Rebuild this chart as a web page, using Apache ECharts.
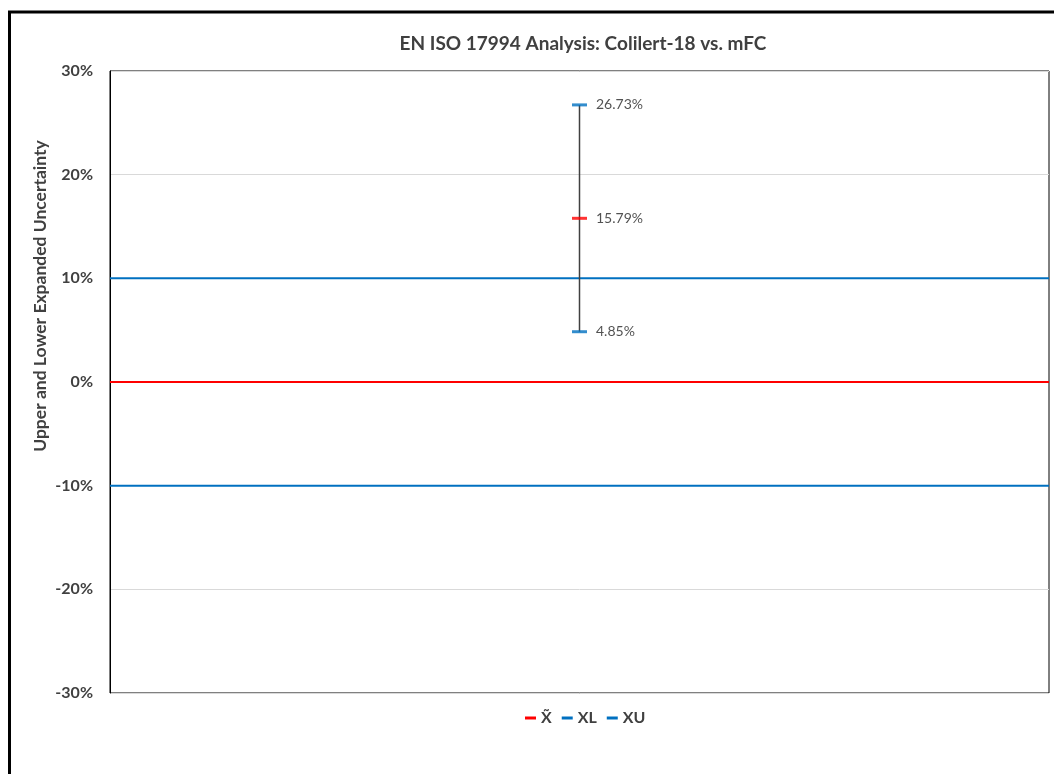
<!DOCTYPE html>
<html>
<head>
<meta charset="utf-8">
<script src="https://cdn.jsdelivr.net/npm/echarts@6/dist/echarts.min.js"></script>
<style>html,body{margin:0;padding:0;background:#fff}#c{width:1054px;height:774px}</style>
</head>
<body>
<div id="c"></div>
<script>
// Data (percent)
const titleText = 'EN ISO 17994 Analysis: Colilert-18 vs. mFC';
const yAxisTitle = 'Upper and Lower Expanded Uncertainty';
const seriesNames = ['X\u0303', 'XL', 'XU'];
const medianValue = 15.79;   // X̃
const lowerValue = 4.85;     // XL
const upperValue = 26.73;    // XU
const refLineMedian = 0;     // red line
const refLineLower = -10;    // XL reference
const refLineUpper = 10;     // XU reference
const xSpan = [0, 2];
const xPoint = 1;
const yTicks = [-30, -20, -10, 0, 10, 20, 30];

const FONT = 'Lato, "Open Sans", sans-serif';
const BLUE = '#0070C0';
const RED = '#FF0000';

const chart = echarts.init(document.getElementById('c'));
const labelStyle = {
  show: true, position: 'right', distance: 9,
  color: '#262626', fontSize: 14, fontFamily: FONT,
  formatter: p => p.value[1].toFixed(2) + '%'
};
chart.setOption({
  animation: false,
  title: {
    text: titleText, left: 578, top: 29, textAlign: 'center',
    textStyle: { fontFamily: FONT, fontSize: 19, fontWeight: 'bold', color: '#404040' }
  },
  legend: {
    data: seriesNames, left: 520, top: 705,
    itemWidth: 11, itemHeight: 3, itemGap: 10,
    icon: 'rect',
    textStyle: { fontFamily: FONT, fontSize: 16, fontWeight: 'bold', color: '#404040' }
  },
  graphic: [{
    type: 'rect', shape: { x: 9.5, y: 12, width: 1100, height: 900 },
    style: { fill: 'none', stroke: '#000', lineWidth: 3 }, z: 100
  }, {
    type: 'text', x: 40, y: 296, rotation: Math.PI / 2,
    style: { text: yAxisTitle, fontFamily: FONT, fontSize: 17.5, fontWeight: 'bold', fill: '#404040', align: 'center', verticalAlign: 'middle' }
  }],
  grid: { left: 110, right: 5, top: 71, bottom: 81, show: true, borderColor: '#000', borderWidth: 1, backgroundColor: 'transparent' },
  xAxis: { type: 'value', min: xSpan[0], max: xSpan[1], show: false },
  yAxis: {
    type: 'value', min: yTicks[0], max: yTicks[yTicks.length - 1], interval: 10,
    axisLine: { show: true, lineStyle: { color: '#000', width: 1 } },
    axisTick: { show: false },
    axisLabel: { formatter: '{value}%', fontFamily: FONT, fontSize: 16, fontWeight: 'bold', color: '#404040', margin: 17 },
    splitLine: { show: true, lineStyle: { color: '#d9d9d9', width: 1 } }
  },
  series: [
    { name: seriesNames[0], type: 'line', data: [[xSpan[0], refLineMedian], [xSpan[1], refLineMedian]],
      showSymbol: false, lineStyle: { color: RED, width: 2 }, itemStyle: { color: RED }, z: 3 },
    { name: seriesNames[1], type: 'line', data: [[xSpan[0], refLineLower], [xSpan[1], refLineLower]],
      showSymbol: false, lineStyle: { color: BLUE, width: 2 }, itemStyle: { color: BLUE }, z: 3 },
    { name: seriesNames[2], type: 'line', data: [[xSpan[0], refLineUpper], [xSpan[1], refLineUpper]],
      showSymbol: false, lineStyle: { color: BLUE, width: 2 }, itemStyle: { color: BLUE }, z: 3 },
    { name: 'errbar', type: 'line', data: [[xPoint, lowerValue], [xPoint, upperValue]],
      showSymbol: false, lineStyle: { color: '#404040', width: 1.5 }, z: 4 },
    { name: seriesNames[0], type: 'scatter', data: [[xPoint, medianValue]], symbol: 'rect', symbolSize: [15, 3],
      itemStyle: { color: RED }, label: labelStyle, z: 5 },
    { name: seriesNames[1], type: 'scatter', data: [[xPoint, lowerValue]], symbol: 'rect', symbolSize: [15, 3],
      itemStyle: { color: BLUE }, label: labelStyle, z: 5 },
    { name: seriesNames[2], type: 'scatter', data: [[xPoint, upperValue]], symbol: 'rect', symbolSize: [15, 3],
      itemStyle: { color: BLUE }, label: labelStyle, z: 5 }
  ]
});
</script>
</body>
</html>
